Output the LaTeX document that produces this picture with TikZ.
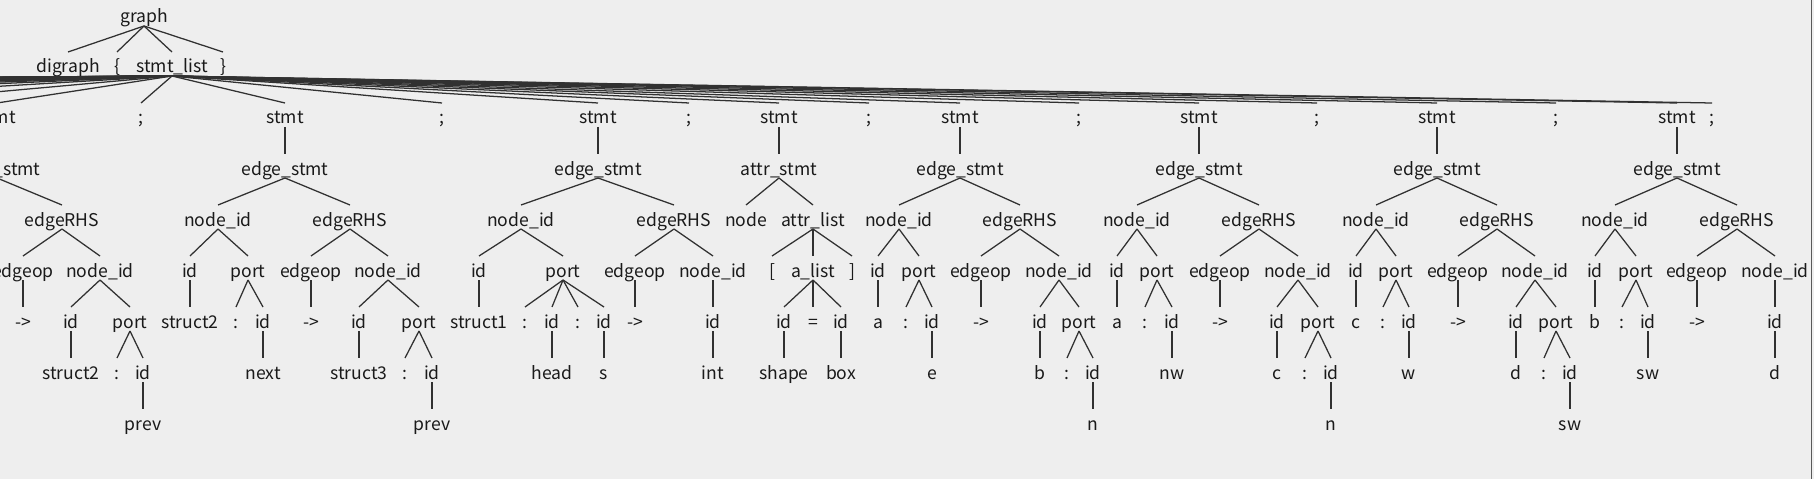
\documentclass[tikz,border=0pt]{standalone}
\usepackage{fontspec}
\setmainfont{Noto Sans CJK SC}
\definecolor{bg}{HTML}{EEEEEE}
\definecolor{ink}{HTML}{1A1A1A}

\begin{document}
\begin{tikzpicture}[x=0.25mm,y=-0.25mm,
  t/.style={anchor=base,yshift=-1.75mm,inner sep=0pt,outer sep=0pt,
    text height=5.25mm,text depth=0.75mm,text=ink,font=\fontsize{12.5}{15}\selectfont},
  br/.style={draw=ink!90,line width=0.9pt}]
\fill[bg] (0,0) rectangle (1814,479);
\useasboundingbox (0,0) rectangle (1814,479);
\clip (0,0) rectangle (1814,479);

% top
\node[t] (graph) at (144,16) {graph};
\node[t] (digraph) at (68,66) {digraph};
\node[t] (lbr) at (117,66) {\{};
\node[t] (slist) at (172,66) {stmt\_list};
\node[t] (rbr) at (223,66) {\}};

% stmt_list children
\node[t] (s1) at (-3,117) {stmt};     \node[t] (semi1) at (141,117) {;};
\node[t] (s2) at (285,117) {stmt};    \node[t] (semi2) at (442,117) {;};
\node[t] (s3) at (598,117) {stmt};    \node[t] (semi3) at (689,117) {;};
\node[t] (s4) at (779,117) {stmt};    \node[t] (semi4) at (869,117) {;};
\node[t] (s5) at (960,117) {stmt};    \node[t] (semi5) at (1079,117) {;};
\node[t] (s6) at (1199,117) {stmt};   \node[t] (semi6) at (1317,117) {;};
\node[t] (s7) at (1437,117) {stmt};   \node[t] (semi7) at (1556,117) {;};
\node[t] (s8) at (1677,117) {stmt};   \node[t] (semi8) at (1712,117) {;};
% earlier statements, off to the left
\foreach \k in {0,...,24} \coordinate (far\k) at ({-115-150*\k},102);

% stmt 1
\node[t] (es1) at (-3,168) {edge\_stmt};
\node[t] (rhs1) at (62,219) {edgeRHS};
\node[t] (op1) at (23,270) {edgeop};   \node[t] (nid1r) at (100,270) {node\_id};
\node[t] (arr1) at (23,321) {->};      \node[t] (id1r) at (71,321) {id};   \node[t] (pt1r) at (130,321) {port};
\node[t] (x1r) at (71,372) {struct2};  \node[t] (col1r) at (117,372) {:};  \node[t] (pid1r) at (143,372) {id};
\node[t] (pv1r) at (143,423) {prev};

% stmt 2
\node[t] (es2) at (285,168) {edge\_stmt};
\node[t] (nid2l) at (218,219) {node\_id}; \node[t] (rhs2) at (350,219) {edgeRHS};
\node[t] (id2l) at (190,270) {id};     \node[t] (pt2l) at (248,270) {port};
\node[t] (op2) at (311,270) {edgeop};  \node[t] (nid2r) at (388,270) {node\_id};
\node[t] (x2l) at (190,321) {struct2}; \node[t] (col2l) at (236,321) {:};  \node[t] (pid2l) at (263,321) {id};
\node[t] (arr2) at (311,321) {->};     \node[t] (id2r) at (359,321) {id};  \node[t] (pt2r) at (419,321) {port};
\node[t] (nx2l) at (263,372) {next};   \node[t] (x2r) at (359,372) {struct3};
\node[t] (col2r) at (405,372) {:};     \node[t] (pid2r) at (432,372) {id};
\node[t] (pv2r) at (432,423) {prev};

% stmt 3
\node[t] (es3) at (598,168) {edge\_stmt};
\node[t] (nid3l) at (521,219) {node\_id}; \node[t] (rhs3) at (674,219) {edgeRHS};
\node[t] (id3l) at (479,270) {id};     \node[t] (pt3l) at (563,270) {port};
\node[t] (op3) at (635,270) {edgeop};  \node[t] (nid3r) at (713,270) {node\_id};
\node[t] (x3l) at (479,321) {struct1}; \node[t] (col3a) at (525,321) {:};  \node[t] (pid3a) at (552,321) {id};
\node[t] (col3b) at (578,321) {:};     \node[t] (pid3b) at (604,321) {id};
\node[t] (arr3) at (635,321) {->};     \node[t] (id3r) at (713,321) {id};
\node[t] (hd3) at (552,372) {head};    \node[t] (ss3) at (604,372) {s};    \node[t] (int3) at (713,372) {int};

% stmt 4
\node[t] (at4) at (779,168) {attr\_stmt};
\node[t] (nd4) at (746,219) {node};    \node[t] (al4) at (813,219) {attr\_list};
\node[t] (lbk4) at (772,270) {[};      \node[t] (alist4) at (813,270) {a\_list}; \node[t] (rbk4) at (852,270) {]};
\node[t] (id4a) at (784,321) {id};     \node[t] (eq4) at (813,321) {=};    \node[t] (id4b) at (841,321) {id};
\node[t] (shp4) at (784,372) {shape};  \node[t] (box4) at (841,372) {box};

% stmt 5
\node[t] (es5) at (960,168) {edge\_stmt};
\node[t] (nid5l) at (899,219) {node\_id}; \node[t] (rhs5) at (1020,219) {edgeRHS};
\node[t] (id5l) at (878,270) {id};     \node[t] (pt5l) at (919,270) {port};
\node[t] (op5) at (981,270) {edgeop};  \node[t] (nid5r) at (1059,270) {node\_id};
\node[t] (a5) at (878,321) {a};        \node[t] (col5l) at (906,321) {:};  \node[t] (pid5l) at (932,321) {id};
\node[t] (arr5) at (981,321) {->};     \node[t] (id5r) at (1040,321) {id}; \node[t] (pt5r) at (1079,321) {port};
\node[t] (e5) at (932,372) {e};        \node[t] (b5) at (1040,372) {b};
\node[t] (col5r) at (1067,372) {:};    \node[t] (pid5r) at (1093,372) {id};
\node[t] (n5) at (1093,423) {n};

% stmt 6
\node[t] (es6) at (1199,168) {edge\_stmt};
\node[t] (nid6l) at (1137,219) {node\_id}; \node[t] (rhs6) at (1259,219) {edgeRHS};
\node[t] (id6l) at (1117,270) {id};    \node[t] (pt6l) at (1157,270) {port};
\node[t] (op6) at (1220,270) {edgeop}; \node[t] (nid6r) at (1298,270) {node\_id};
\node[t] (a6) at (1117,321) {a};       \node[t] (col6l) at (1145,321) {:}; \node[t] (pid6l) at (1172,321) {id};
\node[t] (arr6) at (1220,321) {->};    \node[t] (id6r) at (1277,321) {id}; \node[t] (pt6r) at (1318,321) {port};
\node[t] (nw6) at (1172,372) {nw};     \node[t] (c6) at (1277,372) {c};
\node[t] (col6r) at (1305,372) {:};    \node[t] (pid6r) at (1331,372) {id};
\node[t] (n6) at (1331,423) {n};

% stmt 7
\node[t] (es7) at (1437,168) {edge\_stmt};
\node[t] (nid7l) at (1376,219) {node\_id}; \node[t] (rhs7) at (1497,219) {edgeRHS};
\node[t] (id7l) at (1356,270) {id};    \node[t] (pt7l) at (1396,270) {port};
\node[t] (op7) at (1458,270) {edgeop}; \node[t] (nid7r) at (1535,270) {node\_id};
\node[t] (c7) at (1356,321) {c};       \node[t] (col7l) at (1383,321) {:}; \node[t] (pid7l) at (1409,321) {id};
\node[t] (arr7) at (1458,321) {->};    \node[t] (id7r) at (1516,321) {id}; \node[t] (pt7r) at (1556,321) {port};
\node[t] (w7) at (1409,372) {w};       \node[t] (d7) at (1516,372) {d};
\node[t] (col7r) at (1544,372) {:};    \node[t] (pid7r) at (1570,372) {id};
\node[t] (sw7) at (1570,423) {sw};

% stmt 8
\node[t] (es8) at (1677,168) {edge\_stmt};
\node[t] (nid8l) at (1615,219) {node\_id}; \node[t] (rhs8) at (1737,219) {edgeRHS};
\node[t] (id8l) at (1595,270) {id};    \node[t] (pt8l) at (1636,270) {port};
\node[t] (op8) at (1697,270) {edgeop}; \node[t] (nid8r) at (1775,270) {node\_id};
\node[t] (b8) at (1595,321) {b};       \node[t] (col8l) at (1622,321) {:}; \node[t] (pid8l) at (1648,321) {id};
\node[t] (arr8) at (1697,321) {->};    \node[t] (id8r) at (1775,321) {id};
\node[t] (sw8) at (1648,372) {sw};     \node[t] (d8) at (1775,372) {d};

% branches
\foreach \c in {digraph,lbr,slist,rbr} \draw[br] (graph.south) -- (\c.north);
\foreach \c in {s1,semi1,s2,semi2,s3,semi3,s4,semi4,s5,semi5,s6,semi6,s7,semi7,s8,semi8}
  \draw[br] (slist.south) -- (\c.north);
\foreach \k in {0,...,24} \draw[br] (slist.south) -- (far\k);
\foreach \p/\c in {s1/es1,es1/rhs1,rhs1/op1,rhs1/nid1r,op1/arr1,nid1r/id1r,nid1r/pt1r,
  id1r/x1r,pt1r/col1r,pt1r/pid1r,pid1r/pv1r,
  s2/es2,es2/nid2l,es2/rhs2,nid2l/id2l,nid2l/pt2l,rhs2/op2,rhs2/nid2r,id2l/x2l,pt2l/col2l,pt2l/pid2l,
  pid2l/nx2l,op2/arr2,nid2r/id2r,nid2r/pt2r,id2r/x2r,pt2r/col2r,pt2r/pid2r,pid2r/pv2r,
  s3/es3,es3/nid3l,es3/rhs3,nid3l/id3l,nid3l/pt3l,rhs3/op3,rhs3/nid3r,id3l/x3l,pt3l/col3a,pt3l/pid3a,
  pt3l/col3b,pt3l/pid3b,op3/arr3,nid3r/id3r,pid3a/hd3,pid3b/ss3,id3r/int3,
  s4/at4,at4/nd4,at4/al4,al4/lbk4,al4/alist4,al4/rbk4,alist4/id4a,alist4/eq4,alist4/id4b,id4a/shp4,id4b/box4,
  s5/es5,es5/nid5l,es5/rhs5,nid5l/id5l,nid5l/pt5l,rhs5/op5,rhs5/nid5r,id5l/a5,pt5l/col5l,pt5l/pid5l,
  pid5l/e5,op5/arr5,nid5r/id5r,nid5r/pt5r,id5r/b5,pt5r/col5r,pt5r/pid5r,pid5r/n5,
  s6/es6,es6/nid6l,es6/rhs6,nid6l/id6l,nid6l/pt6l,rhs6/op6,rhs6/nid6r,id6l/a6,pt6l/col6l,pt6l/pid6l,
  pid6l/nw6,op6/arr6,nid6r/id6r,nid6r/pt6r,id6r/c6,pt6r/col6r,pt6r/pid6r,pid6r/n6,
  s7/es7,es7/nid7l,es7/rhs7,nid7l/id7l,nid7l/pt7l,rhs7/op7,rhs7/nid7r,id7l/c7,pt7l/col7l,pt7l/pid7l,
  pid7l/w7,op7/arr7,nid7r/id7r,nid7r/pt7r,id7r/d7,pt7r/col7r,pt7r/pid7r,pid7r/sw7,
  s8/es8,es8/nid8l,es8/rhs8,nid8l/id8l,nid8l/pt8l,rhs8/op8,rhs8/nid8r,id8l/b8,pt8l/col8l,pt8l/pid8l,
  pid8l/sw8,op8/arr8,nid8r/id8r,id8r/d8}
  \draw[br] (\p.south) -- (\c.north);

\draw[gray!70!black,line width=0.6pt] (1811.5,0) -- (1811.5,479);
\end{tikzpicture}
\end{document}
